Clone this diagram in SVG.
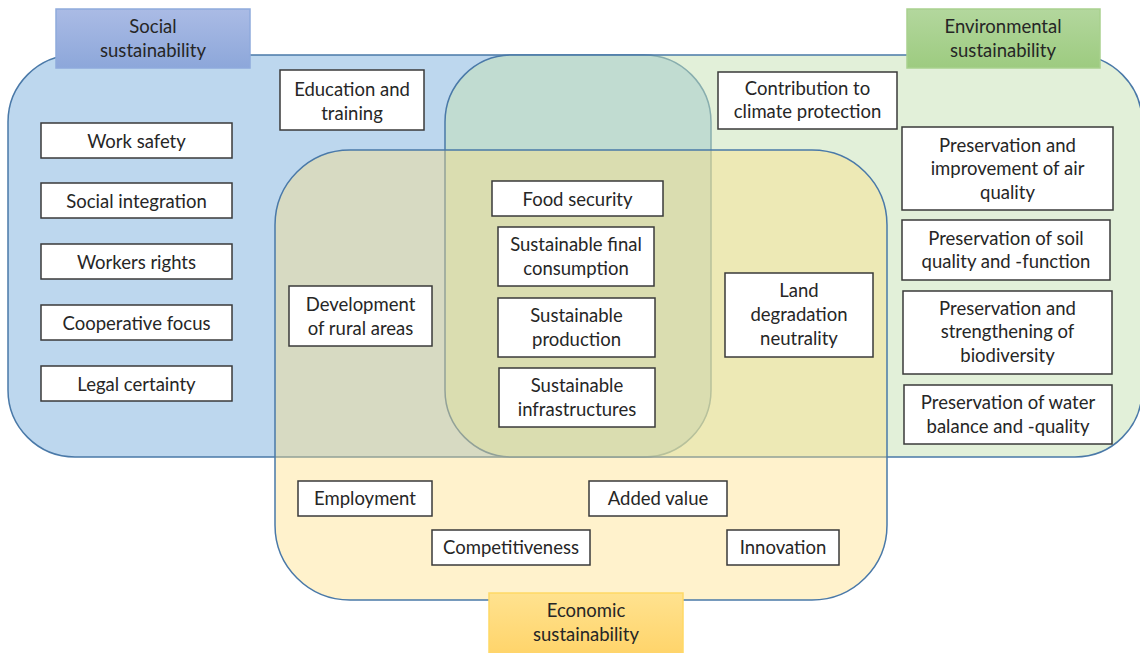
<svg xmlns="http://www.w3.org/2000/svg" width="1140" height="653" viewBox="0 0 1140 653">
<defs>
<linearGradient id="gBlue" x1="0" y1="0" x2="0" y2="1"><stop offset="0" stop-color="#AABBE5"/><stop offset="1" stop-color="#8DA7DA"/></linearGradient>
<linearGradient id="gGreen" x1="0" y1="0" x2="0" y2="1"><stop offset="0" stop-color="#B3D79D"/><stop offset="1" stop-color="#9DCB80"/></linearGradient>
<linearGradient id="gYellow" x1="0" y1="0" x2="0" y2="1"><stop offset="0" stop-color="#FFE28F"/><stop offset="1" stop-color="#FFD46A"/></linearGradient>
<style>
text{font-family:Lato,"Liberation Sans",sans-serif;font-size:18.5px;fill:#262626;text-anchor:middle}
.area{stroke:#4A79A8;stroke-width:1.5;fill-opacity:0.5}
.box{fill:#FFFFFF;stroke:#3A3A3A;stroke-width:1.5}
</style>
</defs>
<rect width="1140" height="653" fill="#FFFFFF"/>
<g id="areas">
<rect id="social-area" class="area" x="8" y="55" width="703" height="402" rx="67" fill="#7BAFDD"/>
<rect id="environmental-area" class="area" x="445" y="55" width="697" height="402" rx="67" fill="#C5E1B3"/>
<rect id="economic-area" class="area" x="275" y="150" width="612" height="450" rx="75" fill="#FFDE80" style="fill-opacity:0.4"/>
</g>
<g id="social-label"><rect x="56" y="9" width="194" height="59" fill="url(#gBlue)" stroke="#8FAADC" stroke-width="1.5"/><text x="153" y="33">Social</text><text x="153" y="57">sustainability</text></g>
<g id="environmental-label"><rect x="907" y="9" width="193" height="59" fill="url(#gGreen)" stroke="#A9D18E" stroke-width="1.5"/><text x="1003" y="33">Environmental</text><text x="1003" y="57">sustainability</text></g>
<g id="economic-label"><rect x="489" y="593" width="194" height="62" fill="url(#gYellow)" stroke="#FFD966" stroke-width="1.5"/><text x="586" y="617">Economic</text><text x="586" y="641">sustainability</text></g>
<g id="connectors"></g>
<g id="work-safety"><rect class="box" x="41" y="123" width="191" height="35"/><text x="136.5" y="147.5">Work safety</text></g>
<g id="social-integration"><rect class="box" x="41" y="183" width="191" height="35"/><text x="136.5" y="207.5">Social integration</text></g>
<g id="workers-rights"><rect class="box" x="41" y="244" width="191" height="35"/><text x="136.5" y="268.5">Workers rights</text></g>
<g id="cooperative-focus"><rect class="box" x="41" y="305" width="191" height="35"/><text x="136.5" y="329.5">Cooperative focus</text></g>
<g id="legal-certainty"><rect class="box" x="41" y="366" width="191" height="35"/><text x="136.5" y="390.5">Legal certainty</text></g>
<g id="education"><rect class="box" x="280" y="70" width="144" height="60"/><text x="352" y="96">Education and</text><text x="352" y="119.5">training</text></g>
<g id="climate"><rect class="box" x="718" y="72" width="179" height="57"/><text x="807.5" y="94.5">Contribution to</text><text x="807.5" y="118">climate protection</text></g>
<g id="food-security"><rect class="box" x="492" y="181" width="171" height="35"/><text x="577.5" y="205.5">Food security</text></g>
<g id="final-consumption"><rect class="box" x="498" y="227" width="156" height="59"/><text x="576" y="251">Sustainable final</text><text x="576" y="275">consumption</text></g>
<g id="production"><rect class="box" x="498" y="298" width="157" height="59"/><text x="576.5" y="322">Sustainable</text><text x="576.5" y="346">production</text></g>
<g id="infrastructures"><rect class="box" x="499" y="368" width="156" height="59"/><text x="577" y="392">Sustainable</text><text x="577" y="416">infrastructures</text></g>
<g id="rural-areas"><rect class="box" x="289" y="286" width="143" height="60"/><text x="360.5" y="311">Development</text><text x="360.5" y="334.5">of rural areas</text></g>
<g id="land-degradation"><rect class="box" x="725" y="273" width="148" height="84"/><text x="799" y="297">Land</text><text x="799" y="321">degradation</text><text x="799" y="345">neutrality</text></g>
<g id="air-quality"><rect class="box" x="902" y="127" width="211" height="83"/><text x="1007.5" y="151.5">Preservation and</text><text x="1007.5" y="175">improvement of air</text><text x="1007.5" y="198.5">quality</text></g>
<g id="soil-quality"><rect class="box" x="902" y="220" width="208" height="60"/><text x="1006" y="244.5">Preservation of soil</text><text x="1006" y="268">quality and -function</text></g>
<g id="biodiversity"><rect class="box" x="903" y="291" width="209" height="83"/><text x="1007.5" y="314.5">Preservation and</text><text x="1007.5" y="338">strengthening of</text><text x="1007.5" y="361.5">biodiversity</text></g>
<g id="water-balance"><rect class="box" x="904" y="385" width="208" height="59"/><text x="1008" y="409">Preservation of water</text><text x="1008" y="432.5">balance and -quality</text></g>
<g id="employment"><rect class="box" x="298" y="481" width="134" height="35"/><text x="365" y="505">Employment</text></g>
<g id="added-value"><rect class="box" x="589" y="481" width="138" height="35"/><text x="658" y="505">Added value</text></g>
<g id="competitiveness"><rect class="box" x="432" y="530" width="158" height="35"/><text x="511" y="554">Competitiveness</text></g>
<g id="innovation"><rect class="box" x="727" y="530" width="112" height="35"/><text x="783" y="554">Innovation</text></g>
</svg>
